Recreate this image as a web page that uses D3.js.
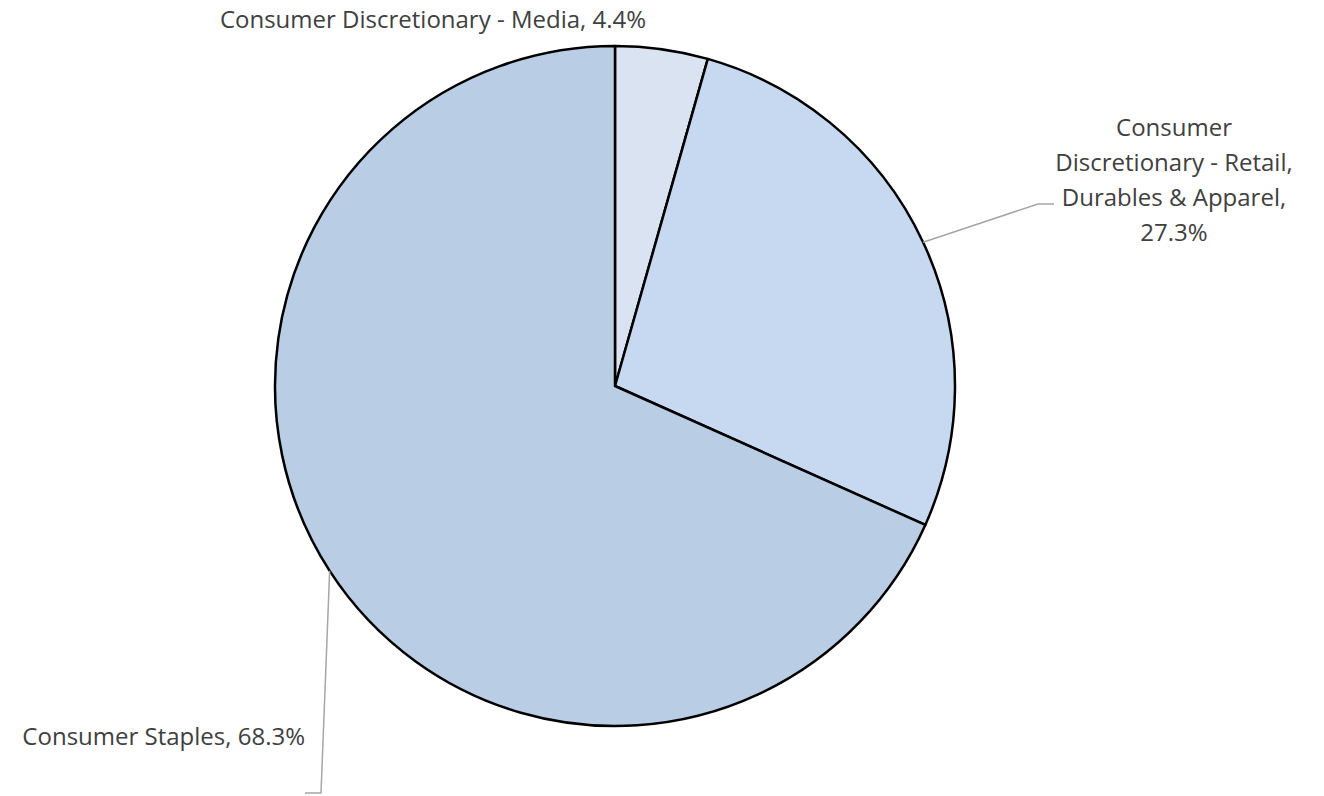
<!DOCTYPE html>
<html>
<head>
    <meta charset="utf-8">
    <script src="https://d3js.org/d3.v7.min.js"></script>
    <style>
        body { margin: 0; background: #fff; }
    </style>
</head>
<body>
    <script>
        // Sector shares (clockwise from 12 o'clock)
        const sectors = ["Consumer Discretionary - Media", "Consumer Discretionary - Retail, Durables & Apparel", "Consumer Staples"];
        const shares = [4.4, 27.3, 68.3];
        const colors = ["#dae3f1", "#c6d9f0", "#b9cde5"];
        const labelLines = [
            ["Consumer Discretionary - Media, 4.4%"],
            ["Consumer", "Discretionary - Retail,", "Durables & Apparel,", "27.3%"],
            ["Consumer Staples, 68.3%"]
        ];

        const width = 1324, height = 796;
        const cx = 615, cy = 386, radius = 340;

        const svg = d3.select("body").append("svg")
            .attr("width", width)
            .attr("height", height)
            .style("font-family", "'Open Sans', sans-serif");

        const pie = d3.pie().sort(null).value(d => d);
        const arcs = pie(shares);

        const arc = d3.arc().innerRadius(0).outerRadius(radius);

        const g = svg.append("g").attr("transform", `translate(${cx},${cy})`);

        g.selectAll("path")
            .data(arcs)
            .join("path")
            .attr("d", arc)
            .attr("fill", (d, i) => colors[i])
            .attr("stroke", "#000")
            .attr("stroke-width", 2.5)
            .attr("stroke-linejoin", "round");

        // point on the rim in the middle of each slice
        function rimPoint(d) {
            const a = (d.startAngle + d.endAngle) / 2;
            return [Math.sin(a) * radius, -Math.cos(a) * radius];
        }

        // leader lines (relative to centre)
        const leader = d3.line();
        const pRetail = rimPoint(arcs[1]);
        g.append("path")
            .attr("d", leader([pRetail, [423, 204 - cy], [439, 204 - cy]]))
            .attr("fill", "none")
            .attr("stroke", "#a6a6a6")
            .attr("stroke-width", 1.5);

        const pStaples = rimPoint(arcs[2]);
        g.append("path")
            .attr("d", leader([pStaples, [321 - cx, 793 - cy], [305 - cx, 793 - cy]]))
            .attr("fill", "none")
            .attr("stroke", "#a6a6a6")
            .attr("stroke-width", 1.5);

        // labels
        const labelPos = [
            { x: 433, y: 28, anchor: "middle" },
            { x: 1174, y: 136, anchor: "middle" },
            { x: 305, y: 745, anchor: "end" }
        ];

        labelLines.forEach((lines, i) => {
            const t = svg.append("text")
                .attr("x", labelPos[i].x)
                .attr("y", labelPos[i].y)
                .attr("text-anchor", labelPos[i].anchor)
                .attr("fill", "#404040")
                .style("font-size", "24px");
            lines.forEach((s, j) => {
                t.append("tspan")
                    .attr("x", labelPos[i].x)
                    .attr("dy", j === 0 ? 0 : 35)
                    .text(s);
            });
        });
    </script>
</body>
</html>
